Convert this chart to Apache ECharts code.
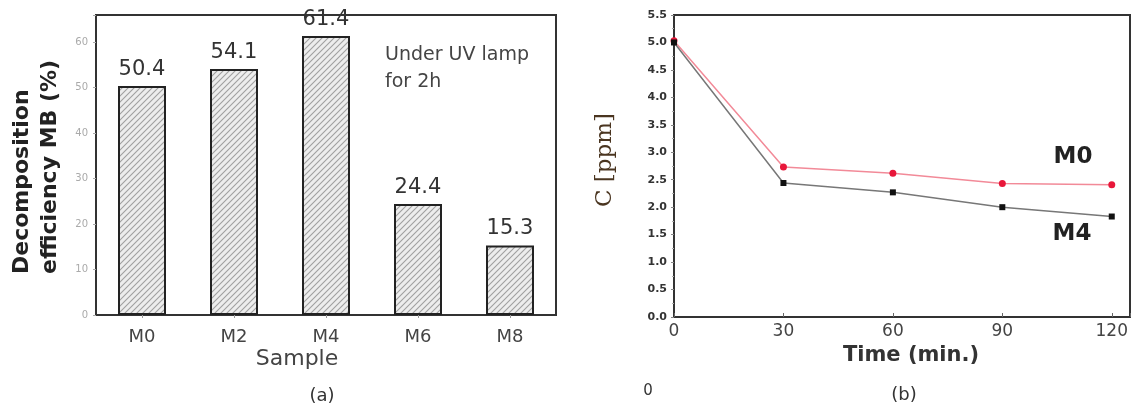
<!DOCTYPE html>
<html>
<head>
<meta charset="utf-8">
<script src="https://cdn.jsdelivr.net/npm/echarts@6/dist/echarts.min.js"></script>
<style>
html,body{margin:0;padding:0;background:#fff;}
#c{width:1137px;height:405px;}
</style>
</head>
<body>
<div id="c"></div>
<script>
// ---- data ----
const samples = ['M0', 'M2', 'M4', 'M6', 'M8'];
const efficiency = [50.4, 54.1, 61.4, 24.4, 15.3];
const times = [0, 30, 60, 90, 120];
const concM0 = [5.03, 2.73, 2.62, 2.43, 2.41];
const concM4 = [5.0, 2.44, 2.27, 2.0, 1.83];
const effTicks = [0, 10, 20, 30, 40, 50, 60];
const concTicks = [0, 0.5, 1, 1.5, 2, 2.5, 3, 3.5, 4, 4.5, 5, 5.5];

// hatch pattern
const pc = document.createElement('canvas');
pc.width = 6; pc.height = 6;
const g = pc.getContext('2d');
g.fillStyle = '#ededed'; g.fillRect(0, 0, 6, 6);
g.strokeStyle = '#a0a0a0'; g.lineWidth = 1.1;
g.beginPath();
g.moveTo(-1, 7); g.lineTo(7, -1);
g.moveTo(-4, 4); g.lineTo(4, -4);
g.moveTo(2, 10); g.lineTo(10, 2);
g.stroke();

const font = '"DejaVu Sans", "Open Sans", sans-serif';
const chart = echarts.init(document.getElementById('c'), null, {renderer: 'canvas'});
chart.setOption({
  animation: false,
  backgroundColor: '#fff',
  grid: [
    {left: 96, top: 15, width: 460, height: 300, show: true, borderColor: '#333', borderWidth: 2},
    {left: 674, top: 15, width: 456, height: 302, show: true, borderColor: '#333', borderWidth: 2}
  ],
  xAxis: [
    {gridIndex: 0, type: 'category', data: samples,
     axisLine: {lineStyle: {color: '#333', width: 2}},
     axisTick: {show: true, alignWithLabel: true, length: 3, lineStyle: {color: '#999'}},
     axisLabel: {color: '#444', fontSize: 18, fontFamily: font, margin: 13}},
    {gridIndex: 1, type: 'value', min: 0, max: 125, interval: 30,
     splitLine: {show: false},
     axisLine: {lineStyle: {color: '#333', width: 2}},
     axisTick: {show: true, length: -4, lineStyle: {color: '#666'}},
     axisLabel: {color: '#444', fontSize: 17, fontFamily: font, margin: 6,
       formatter: v => (times.indexOf(v) >= 0 ? String(v) : '')}}
  ],
  yAxis: [
    {gridIndex: 0, type: 'value', min: 0, max: 66, interval: 10,
     splitLine: {show: false},
     axisLine: {show: true, lineStyle: {color: '#333', width: 2}},
     axisTick: {show: true, length: 3, lineStyle: {color: '#aaa'}},
     axisLabel: {color: '#aaa', fontSize: 10, fontFamily: font, margin: 8,
       formatter: v => (effTicks.indexOf(v) >= 0 ? String(v) : '')}},
    {gridIndex: 1, type: 'value', min: 0, max: 5.5, interval: 0.5,
     splitLine: {show: false},
     axisLine: {show: true, lineStyle: {color: '#333', width: 2}},
     axisTick: {show: true, length: 3, lineStyle: {color: '#888'}},
     minorTick: {show: true, splitNumber: 2, length: 2, lineStyle: {color: '#aaa'}},
     axisLabel: {color: '#333', fontSize: 11, fontWeight: 'bold', fontFamily: font, margin: 7,
       formatter: v => (concTicks.indexOf(v) >= 0 ? v.toFixed(1) : '')}}
  ],
  series: [
    {type: 'bar', xAxisIndex: 0, yAxisIndex: 0, data: efficiency, barWidth: 48,
     itemStyle: {color: {image: pc, repeat: 'repeat'}, borderColor: '#222', borderWidth: 2},
     label: {show: true, position: 'top', distance: 6, color: '#333', fontSize: 21, fontFamily: font}},
    {type: 'line', xAxisIndex: 1, yAxisIndex: 1, name: 'M0',
     data: times.map((t, i) => [t, concM0[i]]),
     symbol: 'circle', symbolSize: 7,
     itemStyle: {color: '#e8173a'}, lineStyle: {color: '#f28a98', width: 1.5}},
    {type: 'line', xAxisIndex: 1, yAxisIndex: 1, name: 'M4',
     data: times.map((t, i) => [t, concM4[i]]),
     symbol: 'rect', symbolSize: 6,
     itemStyle: {color: '#111'}, lineStyle: {color: '#777', width: 1.5}}
  ],
  graphic: [
    {type: 'text', x: 22, y: 274, rotation: Math.PI / 2,
     style: {text: 'Decomposition', font: 'bold 22px ' + font, fill: '#222', textAlign: 'left', textVerticalAlign: 'middle'}},
    {type: 'text', x: 50, y: 274, rotation: Math.PI / 2,
     style: {text: 'efficiency MB (%)', font: 'bold 22px ' + font, fill: '#222', textAlign: 'left', textVerticalAlign: 'middle'}},
    {type: 'text', x: 385, y: 55,
     style: {text: 'Under UV lamp', font: '19px ' + font, fill: '#444', textAlign: 'left', textVerticalAlign: 'middle'}},
    {type: 'text', x: 385, y: 82,
     style: {text: 'for 2h', font: '19px ' + font, fill: '#444', textAlign: 'left', textVerticalAlign: 'middle'}},
    {type: 'text', x: 297, y: 359,
     style: {text: 'Sample', font: '22px ' + font, fill: '#444', textAlign: 'center', textVerticalAlign: 'middle'}},
    {type: 'text', x: 322, y: 396,
     style: {text: '(a)', font: '18px ' + font, fill: '#333', textAlign: 'center', textVerticalAlign: 'middle'}},
    {type: 'text', x: 605, y: 160, rotation: Math.PI / 2,
     style: {text: 'C [ppm]', font: '23px "DejaVu Serif", "Liberation Serif", serif', fill: '#4a3520', textAlign: 'center', textVerticalAlign: 'middle'}},
    {type: 'text', x: 911, y: 356,
     style: {text: 'Time (min.)', font: 'bold 21px ' + font, fill: '#333', textAlign: 'center', textVerticalAlign: 'middle'}},
    {type: 'text', x: 904, y: 395,
     style: {text: '(b)', font: '18px ' + font, fill: '#333', textAlign: 'center', textVerticalAlign: 'middle'}},
    {type: 'text', x: 648, y: 391,
     style: {text: '0', font: '15px ' + font, fill: '#333', textAlign: 'center', textVerticalAlign: 'middle'}},
    {type: 'text', x: 1073, y: 157,
     style: {text: 'M0', font: 'bold 23px ' + font, fill: '#222', textAlign: 'center', textVerticalAlign: 'middle'}},
    {type: 'text', x: 1072, y: 234,
     style: {text: 'M4', font: 'bold 23px ' + font, fill: '#222', textAlign: 'center', textVerticalAlign: 'middle'}}
  ]
});
</script>
</body>
</html>
